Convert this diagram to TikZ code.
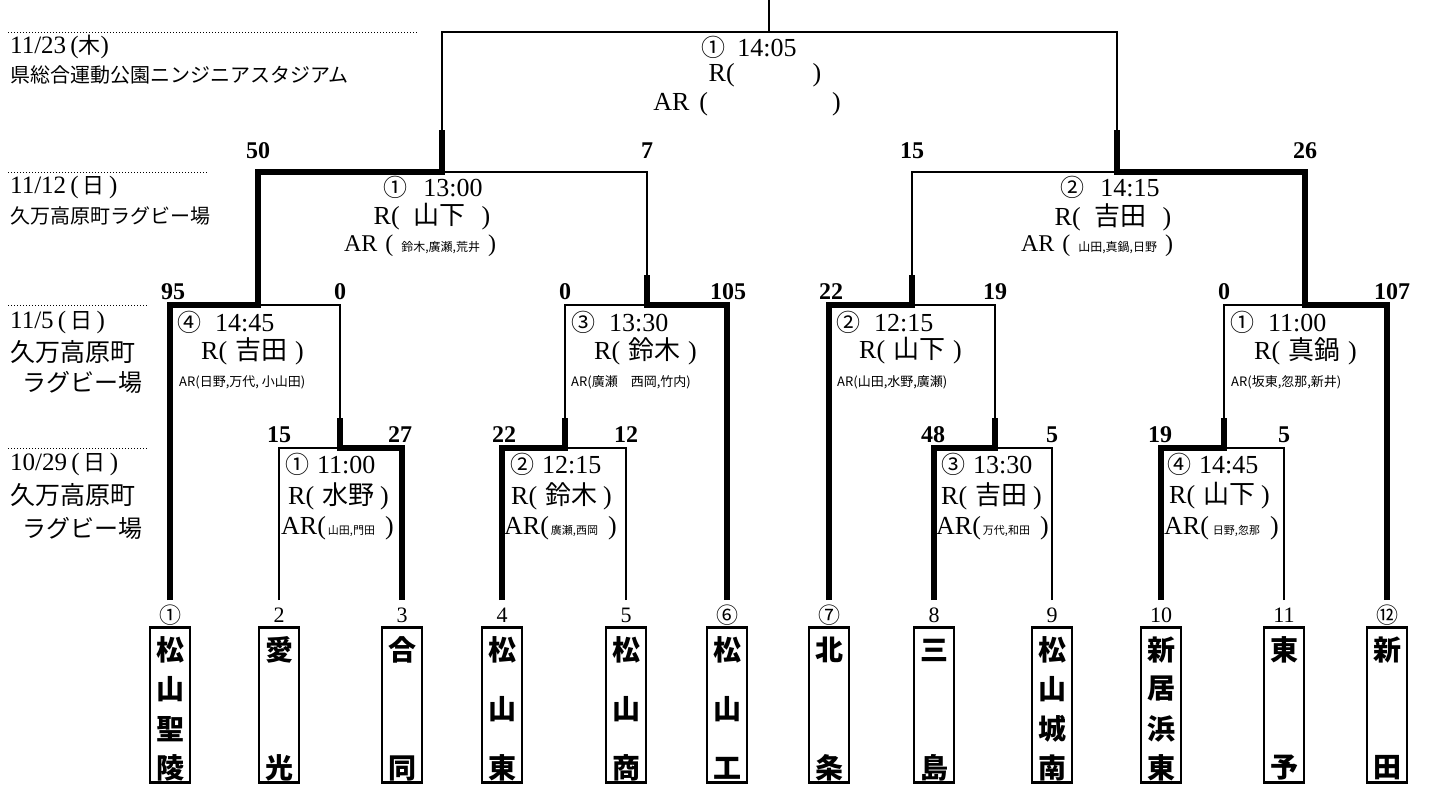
\documentclass[tikz,border=0pt]{standalone}
\usepackage{fontspec}
\setmainfont{Liberation Serif}
\newfontfamily\jpf{Noto Sans CJK JP}
\newcommand\J[1]{{\jpf #1}}
\newcommand\fz[1]{\fontsize{#1}{#1}\selectfont}
\begin{document}
\begin{tikzpicture}[x=1pt,y=-1pt,
  wl/.style={line width=1.8pt},
  bl/.style={line width=5.5pt,line join=miter},
  dl/.style={line width=1pt,dotted},
  txt/.style={inner sep=0pt},
  lt/.style={inner sep=0pt,anchor=west},
  score/.style={inner sep=0pt,font=\fz{24}\bfseries},
  seed/.style={inner sep=0pt,font=\fz{22}},
  tbox/.style={draw,line width=2.4pt,minimum width=40pt,minimum height=155pt,inner sep=0pt},
  tch/.style={inner sep=0pt,font=\jpf\bfseries\fz{28}}]
\useasboundingbox (0,0) rectangle (1436,787);

% ---------- coordinates ----------
\foreach \n/\x in {1/170,2/279,3/402,4/502,5/626,6/727,7/829,8/934,9/1052,10/1161,11/1284,12/1387}{
  \coordinate (b\n) at (\x,600);
  \coordinate (r\n) at (\x,448);
}
\foreach \n/\x in {1/170,6/727,7/829,12/1387}{\coordinate (q\n) at (\x,305);}
% R1 match stems
\coordinate (m1) at (340,448); \coordinate (m1s) at (340,418); \coordinate (m1q) at (340,305);
\coordinate (m2) at (565,448); \coordinate (m2s) at (565,418); \coordinate (m2q) at (565,305);
\coordinate (m3) at (995,448); \coordinate (m3s) at (995,418); \coordinate (m3q) at (995,305);
\coordinate (m4) at (1224,448); \coordinate (m4s) at (1224,418); \coordinate (m4q) at (1224,305);
% QF stems
\coordinate (qa) at (258,305); \coordinate (qas) at (258,172);
\coordinate (qb) at (647,305); \coordinate (qbs) at (647,275); \coordinate (qbt) at (647,172);
\coordinate (qc) at (912,305); \coordinate (qcs) at (912,275); \coordinate (qct) at (912,172);
\coordinate (qd) at (1305,305); \coordinate (qds) at (1305,172);
% SF stems
\coordinate (sa) at (442,172); \coordinate (sas) at (442,130); \coordinate (sat) at (442,32);
\coordinate (sb) at (1117,172); \coordinate (sbs) at (1117,130); \coordinate (sbt) at (1117,32);
\coordinate (ft) at (769,32); \coordinate (ftop) at (769,0);

% ---------- thin lines ----------
\draw[wl] (sas) -- (sat) -- (sbt) -- (sbs);
\draw[wl] (ftop) -- (ft);
\draw[wl] (sa) -- (qbt) -- (qbs);
\draw[wl] (qa) -- (m1q) -- (m1s);
\draw[wl] (b2) -- (r2) -- (m1);
\draw[wl] (qb) -- (m2q) -- (m2s);
\draw[wl] (b5) -- (r5) -- (m2);
\draw[wl] (sb) -- (qct) -- (qcs);
\draw[wl] (qc) -- (m3q) -- (m3s);
\draw[wl] (b9) -- (r9) -- (m3);
\draw[wl] (qd) -- (m4q) -- (m4s);
\draw[wl] (b11) -- (r11) -- (m4);

% ---------- thick (winner) lines ----------
\draw[bl] (b1) -- (q1) -- (qa) -- (qas) -- (sa) -- (sas);
\draw[bl] (b3) -- (r3) -- (m1) -- (m1s);
\draw[bl] (b6) -- (q6) -- (qb) -- (qbs);
\draw[bl] (b4) -- (r4) -- (m2) -- (m2s);
\draw[bl] (b7) -- (q7) -- (qc) -- (qcs);
\draw[bl] (b8) -- (r8) -- (m3) -- (m3s);
\draw[bl] (b12) -- (q12) -- (qd) -- (qds) -- (sb) -- (sbs);
\draw[bl] (b10) -- (r10) -- (m4) -- (m4s);

% ---------- date / venue labels ----------
\draw[dl] (8,32) -- (418,32);
\draw[dl] (8,172) -- (208,172);
\draw[dl] (8,305) -- (148,305);
\draw[dl] (8,448) -- (148,448);
\node[lt] (d1a) at (10,47) {\fz{25}11/23\,(\J{\fz{22}木})};
\node[lt] (d1b) at (10,75) {\J{\fz{20}県総合運動公園ニンジニアスタジアム}};
\node[lt] (d2a) at (10,187) {\fz{25}11/12\,(\,\J{\fz{22}日}\,)};
\node[lt] (d2b) at (10,216) {\J{\fz{20}久万高原町ラグビー場}};
\node[lt] (d3a) at (10,322) {\fz{25}11/5\,(\,\J{\fz{22}日}\,)};
\node[lt] (d3b) at (10,352) {\J{\fz{25}久万高原町}};
\node[lt] (d3c) at (22,382) {\J{\fz{24}ラグビー場}};
\node[lt] (d4a) at (10,464) {\fz{25}10/29\,(\,\J{\fz{22}日}\,)};
\node[lt] (d4b) at (10,495) {\J{\fz{25}久万高原町}};
\node[lt] (d4c) at (22,528) {\J{\fz{24}ラグビー場}};

% ---------- final ----------
\node[txt] (fa) at (749,47) {\fz{26}\J{\fz{24}①}\hspace{12pt}14:05};
\node[txt] (fb) at (765,75) {\fz{26}R(\hspace{78pt})};
\node[txt] (fc) at (747,104) {\fz{26}AR\hspace{10pt}(\hspace{124pt})};

% ---------- semifinals ----------
\node[txt] (sa1) at (433,187) {\fz{26}\J{\fz{24}①}\hspace{16pt}13:00};
\node[txt] (sa2) at (432,217) {\fz{26}R(\hspace{14pt}\J{\fz{26}山下}\hspace{16pt})};
\node[txt] (sa3) at (420,246) {\fz{24}AR\hspace{8pt}(\hspace{8pt}\J{\fz{12}鈴木,廣瀬,荒井}\hspace{8pt})};
\node[txt] (sb1) at (1110,187) {\fz{26}\J{\fz{24}②}\hspace{16pt}14:15};
\node[txt] (sb2) at (1113,217) {\fz{26}R(\hspace{14pt}\J{\fz{26}吉田}\hspace{16pt})};
\node[txt] (sb3) at (1097,246) {\fz{24}AR\hspace{8pt}(\hspace{8pt}\J{\fz{12}山田,真鍋,日野}\hspace{8pt})};

% ---------- quarterfinals ----------
\node[lt] (qa1) at (177,322) {\fz{26}\J{\fz{24}④}\hspace{14pt}14:45};
\node[lt] (qa2) at (201,351) {\fz{26}R(\hspace{8pt}\J{\fz{26}吉田}\hspace{8pt})};
\node[lt] (qa3) at (179,382) {\J{\fz{13}AR(日野,万代, 小山田)}};
\node[lt] (qb1) at (571,322) {\fz{26}\J{\fz{24}③}\hspace{14pt}13:30};
\node[lt] (qb2) at (594,351) {\fz{26}R(\hspace{8pt}\J{\fz{26}鈴木}\hspace{8pt})};
\node[lt] (qb3) at (571,382) {\J{\fz{13}AR(廣瀬　西岡,竹内)}};
\node[lt] (qc1) at (836,322) {\fz{26}\J{\fz{24}②}\hspace{14pt}12:15};
\node[lt] (qc2) at (859,351) {\fz{26}R(\hspace{8pt}\J{\fz{26}山下}\hspace{8pt})};
\node[lt] (qc3) at (837,382) {\J{\fz{13}AR(山田,水野,廣瀬)}};
\node[lt] (qd1) at (1230,322) {\fz{26}\J{\fz{24}①}\hspace{14pt}11:00};
\node[lt] (qd2) at (1254,351) {\fz{26}R(\hspace{8pt}\J{\fz{26}真鍋}\hspace{8pt})};
\node[lt] (qd3) at (1231,382) {\J{\fz{13}AR(坂東,忽那,新井)}};

% ---------- first round ----------
\node[lt] (ra1) at (285,464) {\fz{26}\J{\fz{24}①}\hspace{8pt}11:00};
\node[lt] (ra2) at (288,496) {\fz{26}R(\hspace{8pt}\J{\fz{26}水野}\hspace{6pt})};
\node[lt] (ra3) at (281,528) {\fz{26}AR(\hspace{2pt}\J{\fz{11}山田,門田}\hspace{10pt})};
\node[lt] (rb1) at (510,464) {\fz{26}\J{\fz{24}②}\hspace{8pt}12:15};
\node[lt] (rb2) at (511,496) {\fz{26}R(\hspace{8pt}\J{\fz{26}鈴木}\hspace{6pt})};
\node[lt] (rb3) at (504,528) {\fz{26}AR(\hspace{2pt}\J{\fz{11}廣瀬,西岡}\hspace{10pt})};
\node[lt] (rc1) at (941,464) {\fz{26}\J{\fz{24}③}\hspace{8pt}13:30};
\node[lt] (rc2) at (941,496) {\fz{26}R(\hspace{8pt}\J{\fz{26}吉田}\hspace{6pt})};
\node[lt] (rc3) at (936,528) {\fz{26}AR(\hspace{2pt}\J{\fz{11}万代,和田}\hspace{10pt})};
\node[lt] (rd1) at (1167,464) {\fz{26}\J{\fz{24}④}\hspace{8pt}14:45};
\node[lt] (rd2) at (1169,496) {\fz{26}R(\hspace{8pt}\J{\fz{26}山下}\hspace{6pt})};
\node[lt] (rd3) at (1164,528) {\fz{26}AR(\hspace{4pt}\J{\fz{11}日野,忽那}\hspace{10pt})};

% ---------- scores ----------
\node[score] (s1) at (258,151) {50};
\node[score] (s2) at (647,151) {7};
\node[score] (s3) at (912,151) {15};
\node[score] (s4) at (1305,151) {26};
\node[score] (s5) at (173,292) {95};
\node[score] (s6) at (340,292) {0};
\node[score] (s7) at (565,292) {0};
\node[score] (s8) at (728,292) {105};
\node[score] (s9) at (831,292) {22};
\node[score] (s10) at (995,292) {19};
\node[score] (s11) at (1224,292) {0};
\node[score] (s12) at (1392,292) {107};
\node[score] (s13) at (279,435) {15};
\node[score] (s14) at (400,435) {27};
\node[score] (s15) at (504,435) {22};
\node[score] (s16) at (626,435) {12};
\node[score] (s17) at (933,435) {48};
\node[score] (s18) at (1052,435) {5};
\node[score] (s19) at (1160,435) {19};
\node[score] (s20) at (1284,435) {5};

% ---------- seeds ----------
\foreach \n/\x/\t in {1/170/\J{①},2/279/2,3/402/3,4/502/4,5/626/5,6/727/\J{⑥},7/829/\J{⑦},8/934/8,9/1052/9,10/1161/10,11/1284/11,12/1387/\J{⑫}}{
  \node[seed] (n\n) at (\x,615) {\t};
}

% ---------- team boxes ----------
\foreach \n/\x in {1/170,2/279,3/402,4/502,5/626,6/727,7/829,8/934,9/1052,10/1161,11/1284,12/1387}{
  \node[tbox] (T\n) at (\x,705) {};
}
\foreach \n/\x/\list in {1/170/{650/松,689/山,729/聖,768/陵},2/279/{650/愛,768/光},3/402/{650/合,768/同},
  4/502/{650/松,709/山,768/東},5/626/{650/松,709/山,768/商},6/727/{650/松,709/山,768/工},
  7/829/{650/北,768/条},8/934/{650/三,768/島},9/1052/{650/松,689/山,729/城,768/南},
  10/1161/{650/新,689/居,729/浜,768/東},11/1284/{650/東,768/予},12/1387/{650/新,768/田}}{
  \foreach \y/\c [count=\i] in \list {
    \node[tch] (T\n c\i) at (\x,\y) {\c};
  }
}
\end{tikzpicture}
\end{document}
